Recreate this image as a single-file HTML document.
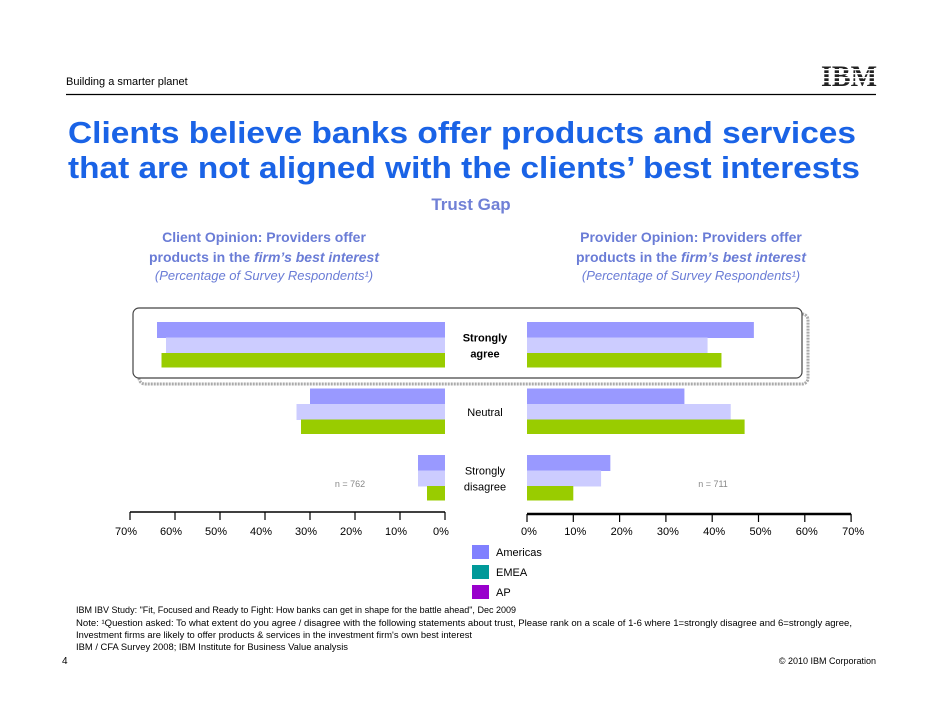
<!DOCTYPE html>
<html><head><meta charset="utf-8"><style>
body{margin:0;background:#fff;}
svg{display:block;font-family:"Liberation Sans",sans-serif;}
</style></head><body>
<svg id="s" width="942" height="728" viewBox="0 0 942 728" xmlns="http://www.w3.org/2000/svg">
<text x="66" y="85" font-size="11" fill="#000">Building a smarter planet</text>
<g>
<text x="849" y="86" font-size="30" font-weight="bold" font-family="Liberation Serif, serif" text-anchor="middle" textLength="56" lengthAdjust="spacingAndGlyphs" fill="#222">IBM</text>
<rect x="818" y="65" width="62" height="1.3" fill="#fff"/><rect x="818" y="69" width="62" height="1.3" fill="#fff"/><rect x="818" y="73" width="62" height="1.3" fill="#fff"/><rect x="818" y="77" width="62" height="1.3" fill="#fff"/><rect x="818" y="81" width="62" height="1.3" fill="#fff"/>
</g>
<line x1="66" y1="94.5" x2="876" y2="94.5" stroke="#000" stroke-width="1.2"/>
<text x="68" y="143" font-size="31" font-weight="bold" fill="#1a63e6" textLength="788" lengthAdjust="spacingAndGlyphs">Clients believe banks offer products and services</text>
<text x="68" y="178" font-size="31" font-weight="bold" fill="#1a63e6" textLength="792" lengthAdjust="spacingAndGlyphs">that are not aligned with the clients’ best interests</text>
<text x="471" y="210" font-size="17" font-weight="bold" fill="#7080d6" text-anchor="middle">Trust Gap</text>
<g font-size="14" font-weight="bold" fill="#6a7cd6" text-anchor="middle">
<text x="264" y="242">Client Opinion: Providers offer</text>
<text x="264" y="262">products in the <tspan font-style="italic">firm’s best interest</tspan></text>
<text x="264" y="280" font-weight="normal" font-style="italic" font-size="13">(Percentage of Survey Respondents¹)</text></g>
<g font-size="14" font-weight="bold" fill="#6a7cd6" text-anchor="middle">
<text x="691" y="242">Provider Opinion: Providers offer</text>
<text x="691" y="262">products in the <tspan font-style="italic">firm’s best interest</tspan></text>
<text x="691" y="280" font-weight="normal" font-style="italic" font-size="13">(Percentage of Survey Respondents¹)</text></g>
<rect x="139" y="314" width="669" height="70" rx="6" fill="none" stroke="#aaa" stroke-width="3" stroke-dasharray="2 1"/>
<rect x="133" y="308" width="669" height="70" rx="6" fill="#fff" stroke="#444" stroke-width="1.2"/>
<g id="bars"></g>
<g id="axes"></g>
<text x="350" y="487" font-size="9" fill="#888" text-anchor="middle">n = 762</text>
<text x="713" y="487" font-size="9" fill="#888" text-anchor="middle">n = 711</text>
<g font-size="11" fill="#000">
<rect x="472" y="545" width="17" height="14" fill="#8080ff"/><text x="496" y="556">Americas</text>
<rect x="472" y="565" width="17" height="14" fill="#009999"/><text x="496" y="576">EMEA</text>
<rect x="472" y="585" width="17" height="14" fill="#9900cc"/><text x="496" y="596">AP</text>
</g>
<g font-size="8.8" fill="#000">
<text x="76" y="613" textLength="440" lengthAdjust="spacingAndGlyphs">IBM IBV Study: "Fit, Focused and Ready to Fight: How banks can get in shape for the battle ahead", Dec 2009</text>
<text x="76" y="626" textLength="776" lengthAdjust="spacingAndGlyphs">Note: ¹Question asked: To what extent do you agree / disagree with the following statements about trust, Please rank on a scale of 1-6 where 1=strongly disagree and 6=strongly agree,</text>
<text x="76" y="638" textLength="396" lengthAdjust="spacingAndGlyphs">Investment firms are likely to offer products &amp; services in the investment firm's own best interest</text>
<text x="76" y="650" textLength="272" lengthAdjust="spacingAndGlyphs">IBM / CFA Survey 2008; IBM Institute for Business Value analysis</text>
</g>
<text x="62" y="664" font-size="10">4</text>
<text x="876" y="664" font-size="9" text-anchor="end">© 2010 IBM Corporation</text>
</svg>
<script>
const categories=["Strongly agree","Neutral","Strongly disagree"];
const seriesNames=["Americas","EMEA","AP"];
const clientAmericas=[64,30,6];
const clientEMEA=[62,33,6];
const clientAP=[63,32,4];
const providerAmericas=[49,34,18];
const providerEMEA=[39,44,16];
const providerAP=[42,47,10];
const tickLabels=["0%","10%","20%","30%","40%","50%","60%","70%"];
const tickValues=[0,10,20,30,40,50,60,70];
const NS="http://www.w3.org/2000/svg";
const colors=["#9999ff","#ccccff","#99cc00"];
function xl(v){return 445-v*4.5;}
function xr(v){return 527+v*4.63;}
function yb(ci,si){return 322+ci*66.5+si*15.5;}
const bars=document.getElementById('bars');
const L=[clientAmericas,clientEMEA,clientAP],R=[providerAmericas,providerEMEA,providerAP];
categories.forEach((c,ci)=>{
 for(let si=0;si<3;si++){
  let r=document.createElementNS(NS,'rect');
  r.setAttribute('x',xl(L[si][ci]));r.setAttribute('y',yb(ci,si));
  r.setAttribute('width',xl(0)-xl(L[si][ci]));r.setAttribute('height',si==2?14.5:16);
  r.setAttribute('fill',colors[si]);
  
  
  bars.appendChild(r);
  let q=document.createElementNS(NS,'rect');
  q.setAttribute('x',xr(0));q.setAttribute('y',yb(ci,si));
  q.setAttribute('width',xr(R[si][ci])-xr(0));q.setAttribute('height',si==2?14.5:16);
  q.setAttribute('fill',colors[si]);
  
  
  bars.appendChild(q);
 }
 let lines=c==="Strongly agree"?["Strongly","agree"]:c==="Neutral"?["Neutral"]:["Strongly","disagree"];
 let cy=yb(ci,1)+8;
 lines.forEach((t,i)=>{
  let tx=document.createElementNS(NS,'text');
  tx.setAttribute('x',485);tx.setAttribute('y',cy+4+(i-(lines.length-1)/2)*16);
  tx.setAttribute('text-anchor','middle');tx.setAttribute('font-size','11');
  if(ci==0)tx.setAttribute('font-weight','bold');
  tx.textContent=t;
  
  
  bars.appendChild(tx);
 });
});
const ax=document.getElementById('axes');
function ln(x1,y1,x2,y2,w){let l=document.createElementNS(NS,'line');l.setAttribute('x1',x1);l.setAttribute('y1',y1);l.setAttribute('x2',x2);l.setAttribute('y2',y2);l.setAttribute('stroke','#000');l.setAttribute('stroke-width',w);


ax.appendChild(l);}
ln(xl(70),512,xl(0),512,1.5);ln(xr(0),514,xr(70),514,2.5);
tickValues.forEach((v,i)=>{
 ln(xl(v),512,xl(v),520,1.2);ln(xr(v),514,xr(v),522,1.2);
 let t=document.createElementNS(NS,'text');t.setAttribute('x',xl(v)-4);t.setAttribute('y',535);t.setAttribute('font-size','11');t.setAttribute('text-anchor','middle');t.textContent=tickLabels[i];
 
 
 ax.appendChild(t);
 let u=document.createElementNS(NS,'text');u.setAttribute('x',xr(v)+2);u.setAttribute('y',535);u.setAttribute('font-size','11');u.setAttribute('text-anchor','middle');u.textContent=tickLabels[i];
 
 
 ax.appendChild(u);
});
</script>
</body></html>
